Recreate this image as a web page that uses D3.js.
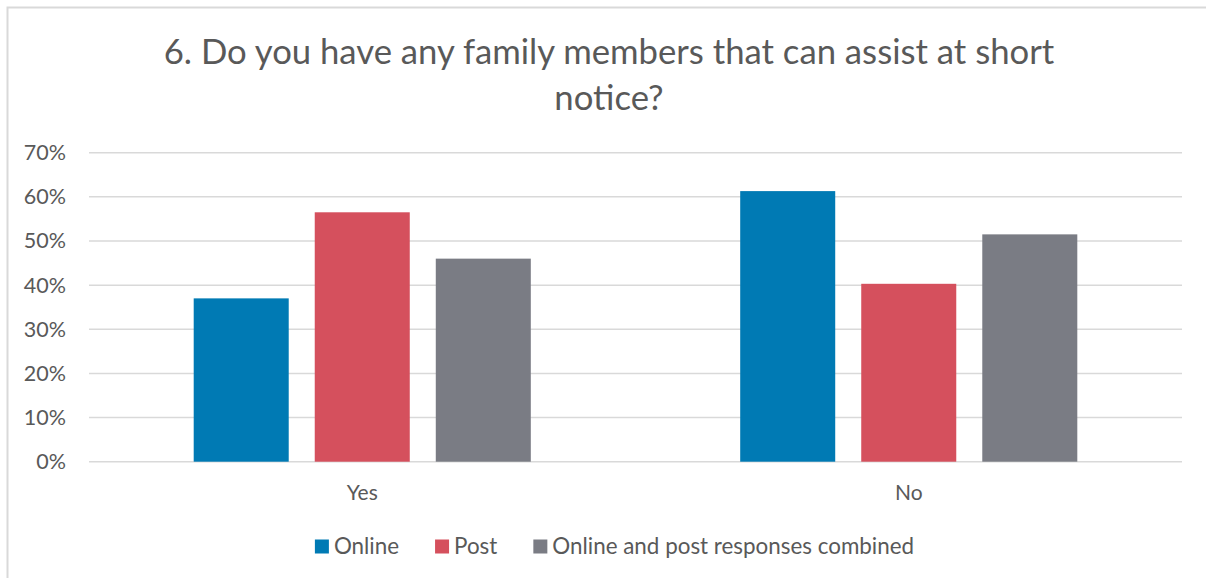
<!DOCTYPE html>
<html>
<head>
<meta charset="utf-8">
<script src="https://cdn.jsdelivr.net/npm/d3@7"></script>
<style>
  body { margin: 0; background: #fff; }
  svg text { font-family: Lato, "Open Sans", sans-serif; fill: #595959; }
</style>
</head>
<body>
<svg id="chart"></svg>
<script>
// Data
const categories = ["Yes", "No"];
const seriesNames = ["Online", "Post", "Online and post responses combined"];
const online = [0.370, 0.613];
const post = [0.565, 0.403];
const combined = [0.460, 0.515];
const yTicks = [0, 0.1, 0.2, 0.3, 0.4, 0.5, 0.6, 0.7];
const titleLines = ["6. Do you have any family members that can assist at short", "notice?"];

const colors = ["#007AB4", "#D5505D", "#7A7C84"];

const width = 1206, height = 578;
const margin = { top: 152.7, right: 24, bottom: 116.3, left: 89 };

const svg = d3.select("#chart")
    .attr("width", width)
    .attr("height", height);

// outer chart border (only top/left visible)
svg.append("rect")
    .attr("x", 7.5).attr("y", 7.5)
    .attr("width", 1220).attr("height", 600)
    .attr("fill", "none")
    .attr("stroke", "#D9D9D9")
    .attr("stroke-width", 2);

// title
svg.append("g").selectAll("text")
    .data(titleLines)
    .join("text")
    .attr("x", 609)
    .attr("y", (d, i) => 64 + i * 46)
    .attr("text-anchor", "middle")
    .style("font-size", "34.7px")
    .text(d => d);

// scales
const x0 = d3.scaleBand()
    .domain(categories)
    .range([margin.left, width - margin.right])
    .padding(0);

const x1 = d3.scaleBand()
    .domain(seriesNames)
    .range([0, x0.bandwidth()])
    .paddingInner(0.215)
    .paddingOuter(0.865);

const y = d3.scaleLinear()
    .domain([0, 0.7])
    .range([height - margin.bottom, margin.top]);

// gridlines
svg.append("g")
    .selectAll("line")
    .data(yTicks)
    .join("line")
    .attr("x1", margin.left)
    .attr("x2", width - margin.right)
    .attr("y1", d => y(d))
    .attr("y2", d => y(d))
    .attr("stroke", "#D9D9D9")
    .attr("stroke-width", 1.5);

// y axis labels
const yAxis = d3.axisLeft(y)
    .tickValues(yTicks)
    .tickFormat(d3.format(".0%"))
    .tickSize(0)
    .tickPadding(23);

svg.append("g")
    .attr("transform", `translate(${margin.left},0)`)
    .call(yAxis)
    .call(g => g.select(".domain").remove())
    .call(g => g.selectAll("text")
        .attr("fill", "#595959")
        .style("font-family", "Lato, sans-serif")
        .style("font-size", "21.5px"));

// bars
const seriesData = [online, post, combined];
const groups = svg.append("g")
    .selectAll("g")
    .data(categories)
    .join("g")
    .attr("transform", d => `translate(${x0(d)},0)`);

groups.selectAll("rect")
    .data((c, ci) => seriesNames.map((s, si) => ({ s: s, si: si, v: seriesData[si][ci] })))
    .join("rect")
    .attr("x", d => x1(d.s))
    .attr("width", x1.bandwidth())
    .attr("y", d => y(d.v))
    .attr("height", d => y(0) - y(d.v))
    .attr("fill", d => colors[d.si]);

// x axis labels
const xAxis = d3.axisBottom(x0).tickSize(0).tickPadding(23);
svg.append("g")
    .attr("transform", `translate(0,${y(0)})`)
    .call(xAxis)
    .call(g => g.select(".domain").remove())
    .call(g => g.selectAll("text")
        .attr("fill", "#595959")
        .style("font-family", "Lato, sans-serif")
        .style("font-size", "21px"));

// legend
const legend = svg.append("g");
const items = legend.selectAll("g")
    .data(seriesNames)
    .join("g");

items.append("rect")
    .attr("width", 14)
    .attr("height", 14)
    .attr("y", -14)
    .attr("fill", (d, i) => colors[i]);

items.append("text")
    .attr("x", 19)
    .style("font-size", "22.4px")
    .text(d => d);

let pos = 0;
const offsets = [];
items.each(function(d) {
    offsets.push(pos);
    const w = d3.select(this).select("text").node().getComputedTextLength();
    pos += 19 + w + 36;
});
const total = pos - 36;
items.attr("transform", (d, i) => `translate(${offsets[i]},0)`);
legend.attr("transform", `translate(${614.5 - total / 2},553.5)`);
</script>
</body>
</html>
